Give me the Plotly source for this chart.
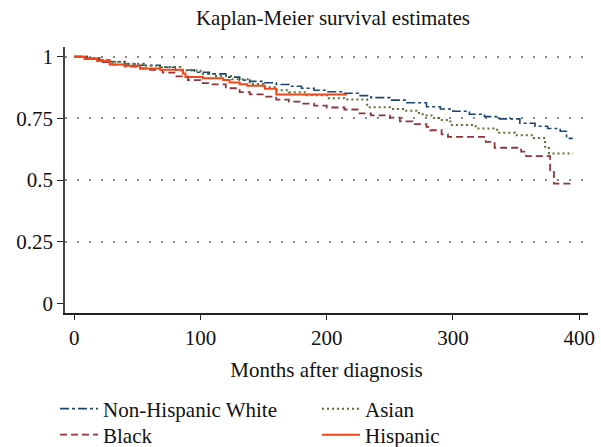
import plotly.graph_objects as go

# ---- data ----
nhw_months = [0, 10, 20, 28, 40, 50, 68, 80, 95, 107, 120, 131, 139, 150, 160, 170, 180, 190, 200,
              214, 225, 235, 250, 262, 279, 290, 300, 313, 325, 337, 353, 365, 375, 385, 390, 395]
nhw_surv = [1.0, 0.993, 0.986, 0.979, 0.970, 0.965, 0.957, 0.946, 0.937, 0.930, 0.917, 0.905, 0.900,
            0.894, 0.887, 0.880, 0.872, 0.864, 0.858, 0.852, 0.842, 0.834, 0.824, 0.813, 0.797, 0.788,
            0.779, 0.767, 0.757, 0.748, 0.730, 0.718, 0.709, 0.698, 0.669, 0.669]

black_months = [0, 10, 20, 30, 40, 50, 60, 70, 80, 90, 100, 108, 120, 131, 139, 150, 160, 170, 180,
                190, 200, 214, 226, 235, 250, 258, 268, 279, 282, 291, 296, 326, 333, 354, 358, 377,
                380, 395]
black_surv = [1.0, 0.990, 0.978, 0.968, 0.960, 0.952, 0.946, 0.935, 0.920, 0.905, 0.893, 0.888, 0.872,
              0.856, 0.847, 0.838, 0.826, 0.818, 0.810, 0.802, 0.794, 0.786, 0.770, 0.762, 0.753,
              0.738, 0.727, 0.716, 0.702, 0.685, 0.675, 0.655, 0.631, 0.615, 0.597, 0.540, 0.486, 0.486]

asian_months = [0, 10, 20, 28, 40, 55, 68, 84, 100, 110, 125, 139, 150, 160, 170, 184, 200, 214, 232,
                250, 262, 271, 276, 283, 290, 298, 318, 335, 349, 364, 373, 376, 395]
asian_surv = [1.0, 0.993, 0.985, 0.979, 0.971, 0.963, 0.958, 0.944, 0.930, 0.922, 0.908, 0.889, 0.876,
              0.864, 0.856, 0.844, 0.832, 0.826, 0.795, 0.788, 0.781, 0.772, 0.762, 0.752, 0.743,
              0.723, 0.709, 0.692, 0.682, 0.671, 0.635, 0.608, 0.608]

hisp_months = [0, 8, 18, 28, 40, 52, 68, 86, 88, 102, 118, 123, 131, 137, 151, 160, 216]
hisp_surv = [1.0, 0.990, 0.982, 0.968, 0.963, 0.952, 0.947, 0.932, 0.918, 0.912, 0.905, 0.895, 0.888,
             0.882, 0.870, 0.847, 0.847]

x_ticks = [0, 100, 200, 300, 400]
y_ticks = [0, 0.25, 0.5, 0.75, 1]
y_tick_text = ["0", "0.25", "0.5", "0.75", "1"]
grid_levels = [0.25, 0.5, 0.75, 1]

FONT = "Liberation Serif"
FS = 21

fig = go.Figure()

series = [
    ("Non-Hispanic White", nhw_months, nhw_surv, "#1a476f", "dashdot", 1.6, "legend"),
    ("Asian", asian_months, asian_surv, "#55752f", "2px,3px", 2.0, "legend2"),
    ("Black", black_months, black_surv, "#90353b", "7px,4px", 1.8, "legend3"),
    ("Hispanic", hisp_months, hisp_surv, "#f3461b", "solid", 2.0, "legend4"),
]
for name, xs, ys, col, dash, w, lg in series:
    fig.add_trace(go.Scatter(x=xs, y=ys, mode="lines", name=name, legend=lg,
                             line=dict(color=col, dash=dash, width=w, shape="hv")))

# invisible helper trace for the dotted grid axis
fig.add_trace(go.Scatter(x=[0], y=[0], yaxis="y2", mode="markers",
                         marker=dict(opacity=0), showlegend=False, hoverinfo="skip"))

yr = [-0.038, 1.039]
leg_common = dict(xref="container", yref="container", yanchor="middle", xanchor="left",
                  itemwidth=38, font=dict(size=FS), bgcolor="rgba(0,0,0,0)",
                  orientation="v")
row1 = 1 - 409 / 447
row2 = 1 - 435 / 447
col1 = 55 / 601
col2 = 317 / 601
fig.update_layout(
    width=601, height=447,
    margin=dict(l=65, r=13, t=47, b=134, autoexpand=False),
    paper_bgcolor="white", plot_bgcolor="white",
    font=dict(family=FONT, size=FS, color="#111"),
    title=dict(text="Kaplan-Meier survival estimates", x=0.554, xanchor="center",
               y=1 - 18 / 447, yanchor="middle", font=dict(family=FONT, size=FS, color="#111")),
    xaxis=dict(range=[-7.4, 407], tickvals=x_ticks, ticks="outside", ticklen=5, tickwidth=1.2,
               tickcolor="#222", showline=True, linecolor="#222", linewidth=1.5,
               showgrid=False, zeroline=False, tickfont=dict(size=FS),
               ticklabeloverflow="allow",
               title=dict(text="Months after diagnosis", font=dict(size=FS), standoff=13)),
    yaxis=dict(range=yr, tickvals=y_ticks, ticktext=y_tick_text, ticks="outside", ticklen=6,
               tickwidth=1.2, tickcolor="#222", showline=True, linecolor="#444", linewidth=1.5,
               showgrid=False, zeroline=False, tickfont=dict(size=FS)),
    yaxis2=dict(range=yr, overlaying="y", tickvals=grid_levels, showticklabels=False, ticks="",
                showline=False, zeroline=False, showgrid=True, gridcolor="#8a8a8a",
                gridwidth=1.5, griddash="2px,10px"),
    legend=dict(x=col1, y=row1, **leg_common),
    legend2=dict(x=col2, y=row1, **leg_common),
    legend3=dict(x=col1, y=row2, **leg_common),
    legend4=dict(x=col2, y=row2, **leg_common),
    showlegend=True,
)

fig.write_html("out.html", config={"displayModeBar": False},
               post_script="document.body.style.margin='0';document.body.style.overflow='hidden';")
